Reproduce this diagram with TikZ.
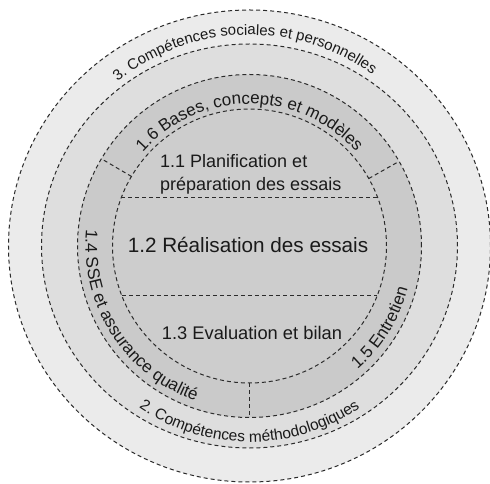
\documentclass[tikz,border=0pt]{standalone}
\usepackage{fontspec}
\setmainfont{Liberation Sans}
\usetikzlibrary{decorations.text}
\definecolor{cthree}{HTML}{EBEBEB}
\definecolor{ctwo}{HTML}{DEDEDE}
\definecolor{cone}{HTML}{CACACA}
\definecolor{czero}{HTML}{CDCDCD}
\definecolor{dashcol}{HTML}{2B2B2B}
\definecolor{txt}{HTML}{1A1A1A}
\begin{document}
\begin{tikzpicture}[x=1pt,y=1pt,
  dl/.style={draw=dashcol, line width=1pt, dash pattern=on 4pt off 3pt},
  curved/.style={decorate, decoration={text along path, text align=center, text color=txt}},
  lbl/.style={inner sep=0pt, text=txt}]
\useasboundingbox (-249.5,-238) rectangle (240.5,246);
\fill[white] (-249.5,-238) rectangle (240.5,246);
% rings
\fill[cthree] (0,0) ellipse[x radius=241, y radius=236];
\draw[dl] (0,0) ellipse[x radius=241, y radius=236];
\fill[ctwo] (0,0) ellipse[x radius=208, y radius=202];
\draw[dl] (0,0) ellipse[x radius=208, y radius=202];
\fill[cone] (0,0) ellipse[x radius=172, y radius=171.5];
\draw[dl] (0,0) ellipse[x radius=172, y radius=171.5];
\fill[czero] (0,0) circle[radius=137];
\draw[dl] (0,0) circle[radius=137];
% chords
\coordinate (ul) at (-128.3,48);
\coordinate (ur) at (128.3,48);
\coordinate (ll) at (-127.5,-50);
\coordinate (lr) at (127.5,-50);
\draw[dl] (ul) -- (ur);
\draw[dl] (ll) -- (lr);
% radial dividers
\coordinate (da1) at (29.5:137);
\coordinate (da2) at (29.5:172);
\coordinate (db1) at (149.5:137);
\coordinate (db2) at (149.5:172);
\coordinate (dc1) at (270:137);
\coordinate (dc2) at (270:171.5);
\draw[dl] (da1) -- (da2);
\draw[dl] (db1) -- (db2);
\draw[dl] (dc1) -- (dc2);
% inner texts
\node[lbl, anchor=base west, font=\fontsize{18}{22}\selectfont] (t11a) at (-89.5,78) {1.1 Planification et};
\node[lbl, anchor=base west, font=\fontsize{18}{22}\selectfont] (t11b) at (-89.5,55) {préparation des essais};
\node[lbl, anchor=base, font=\fontsize{20.7}{25}\selectfont] (t12) at (-1.5,-7) {1.2 Réalisation des essais};
\node[lbl, anchor=base, font=\fontsize{18.3}{22}\selectfont] (t13) at (2.5,-94) {1.3 Evaluation et bilan};
% curved texts
\path[curved, decoration={text={|\fontsize{15}{18}\selectfont|3. Compétences sociales et personnelles}}]
  (160:211) arc[start angle=160, end angle=23, radius=211];
\path[curved, decoration={text={|\fontsize{17}{20}\selectfont|1.6 Bases, concepts et modèles}}]
  (170:142) arc[start angle=170, end angle=10, radius=142];
\path[curved, decoration={text={|\fontsize{15.5}{18}\selectfont|2. Compétences méthodologiques}}]
  (200:196) arc[start angle=200, end angle=340, radius=196];
\path[curved, decoration={text={|\fontsize{17}{20}\selectfont|1.4 SSE et assurance qualité}}]
  (150:164) arc[start angle=150, end angle=275, radius=164];
\path[curved, decoration={text={|\fontsize{17}{20}\selectfont|1.5 Entretien}}]
  (290:164) arc[start angle=290, end angle=366, radius=164];
\end{tikzpicture}
\end{document}
